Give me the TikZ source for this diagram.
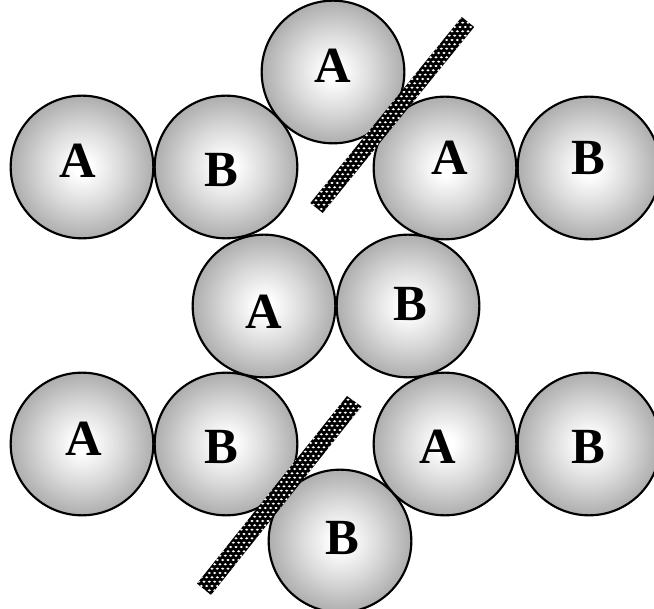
\documentclass[tikz,border=0pt]{standalone}
\usepackage{fontspec}
\setmainfont{Liberation Serif}[BoldFont={Liberation Serif Bold}]
\usepackage{tikz}
\usetikzlibrary{patterns}
\pgfdeclareradialshading{spShade}{\pgfpoint{0bp}{0bp}}{
  color(0bp)=(white); color(3bp)=(white); color(14bp)=(black!15);
  color(25bp)=(black!32); color(50bp)=(black!32)}
\pgfdeclarepatternformonly{barDots}{\pgfqpoint{-1pt}{-1pt}}{\pgfqpoint{5pt}{7.5pt}}{\pgfqpoint{4pt}{6.5pt}}{
  \pgfpathellipse{\pgfqpoint{1pt}{1pt}}{\pgfqpoint{1.2pt}{0pt}}{\pgfqpoint{0pt}{0.85pt}}
  \pgfpathellipse{\pgfqpoint{3pt}{4.25pt}}{\pgfqpoint{1.2pt}{0pt}}{\pgfqpoint{0pt}{0.85pt}}
  \pgfusepath{fill}
}
\tikzset{
  spBall/.style={
    circle, draw=black, line width=1.6pt, shading=spShade,
    minimum size=107pt, inner sep=0pt
  },
  spLetter/.style={
    inner sep=0pt, font=\fontsize{38}{40}\selectfont\bfseries
  },
  spBar/.style={
    preaction={fill=black}, pattern=barDots, pattern color=white
  }
}
\begin{document}
\begin{tikzpicture}[x=0.75pt, y=-0.75pt]
  \useasboundingbox (0,0) rectangle (654,609);

  % top row
  \node[spBall] (a1) at (82,167) {};
  \node[spBall] (b1) at (226,167) {};
  \node[spBall] (a2) at (333,72) {};
  \node[spBall] (a3) at (445,168) {};
  \node[spBall] (b2) at (589,168) {};
  \node[spLetter] (a1t) at (78,161) {A};
  \node[spLetter] (b1t) at (221,170) {B};
  \node[spLetter] (a2t) at (333,66) {A};
  \node[spLetter] (a3t) at (450,158) {A};
  \node[spLetter] (b2t) at (588,158) {B};

  % middle pair
  \node[spBall] (a4) at (264,306) {};
  \node[spBall] (b3) at (408,306) {};
  \node[spLetter] (a4t) at (264,312) {A};
  \node[spLetter] (b3t) at (410,304) {B};

  % bottom row
  \node[spBall] (a5) at (82,444) {};
  \node[spBall] (b4) at (226,444) {};
  \node[spBall] (a6) at (445,444) {};
  \node[spBall] (b5) at (589,444) {};
  \node[spBall] (b6) at (340,541) {};
  \node[spLetter] (a5t) at (84,439) {A};
  \node[spLetter] (b4t) at (221,447) {B};
  \node[spLetter] (a6t) at (438,447) {A};
  \node[spLetter] (b5t) at (588,447) {B};
  \node[spLetter] (b6t) at (342,538) {B};

  % barriers
  \coordinate (p1) at (461.8,17);
  \coordinate (p2) at (474.2,27);
  \coordinate (p3) at (322.7,213);
  \coordinate (p4) at (310.3,203);
  \path[spBar] (p1) -- (p2) -- (p3) -- (p4) -- cycle;

  \coordinate (q1) at (347,396);
  \coordinate (q2) at (361.5,406.5);
  \coordinate (q3) at (211,595);
  \coordinate (q4) at (197,583.5);
  \path[spBar] (q1) -- (q2) -- (q3) -- (q4) -- cycle;
\end{tikzpicture}
\end{document}
